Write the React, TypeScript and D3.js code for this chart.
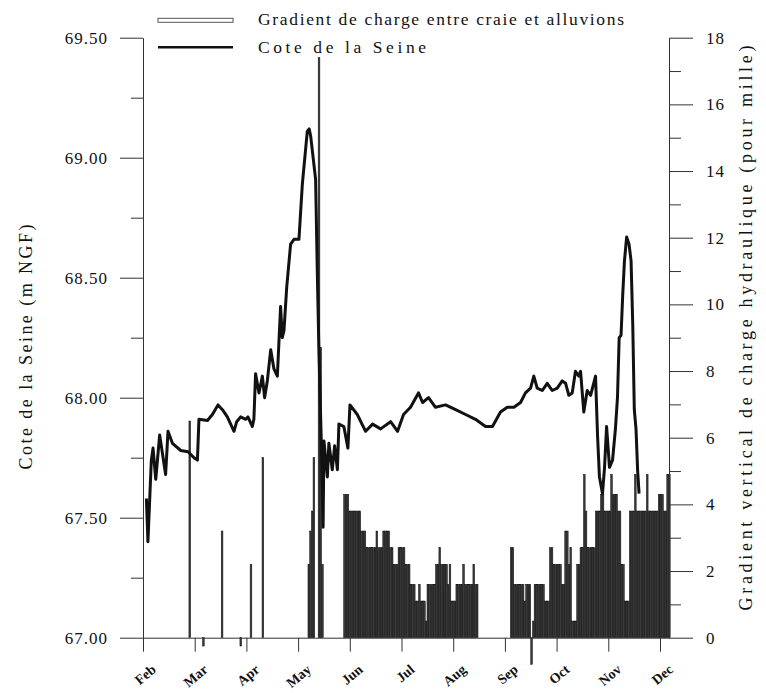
import { useEffect, useRef } from 'react';
import * as d3 from 'd3';

const months = ['Feb', 'Mar', 'Apr', 'May', 'Jun', 'Jul', 'Aug', 'Sep', 'Oct', 'Nov', 'Dec'];
const daysPerMonth = 30.4;
const lastDay = 309.3;

const leftTicks = [67, 67.5, 68, 68.5, 69, 69.5];
const leftMinorTicks = [67.25, 67.75, 68.25, 68.75, 69.25];
const rightTicks = [0, 2, 4, 6, 8, 10, 12, 14, 16, 18];
const rightMinorTicks = [1, 3, 5, 7, 9, 11, 13, 15, 17];

// Cote de la Seine (m NGF), day counted from 1 Feb
const seineDays = [
  2.0, 2.9, 4.9, 5.9, 7.5, 9.8, 13.3, 14.7, 17.3, 22.2, 26.5, 30.0, 32.0, 32.9, 37.9, 40.8,
  44.1, 46.7, 49.6, 53.5, 55.1, 57.4, 60.4, 61.7, 64.3, 65.2, 66.2, 68.2, 70.2, 71.5, 73.1,
  75.1, 77.0, 79.0, 80.9, 81.9, 82.9, 84.5, 86.8, 88.8, 91.7, 93.7, 96.6, 97.7, 98.6, 101.5,
  102.5, 103.4, 104.9, 105.9, 106.4, 108.4, 109.3, 111.3, 112.7, 114.3, 115.2, 118.1, 120.5,
  121.7, 126.0, 130.9, 135.0, 139.7, 145.6, 149.7, 153.2, 157.3, 162.0, 164.4, 167.9, 172.0,
  177.9, 183.8, 189.7, 195.5, 201.4, 205.5, 210.2, 214.2, 218.1, 222.0, 224.9, 227.9, 229.8,
  231.8, 234.8, 237.7, 240.6, 243.6, 246.5, 248.5, 250.4, 252.4, 254.3, 256.3, 257.3, 259.2,
  261.2, 263.2, 266.1, 267.3, 268.4, 270.2, 271.4, 272.6, 273.4, 274.3, 276.1, 277.8, 279.0,
  280.0, 281.1, 282.1, 283.1, 284.4, 285.8, 287.0, 288.0, 288.9, 289.9, 290.9, 291.7
];
const seineLevels = [
  67.58, 67.40, 67.74, 67.79, 67.66, 67.845, 67.68, 67.86, 67.81, 67.78, 67.775, 67.75, 67.74,
  67.91, 67.905, 67.93, 67.97, 67.95, 67.92, 67.86, 67.90, 67.92, 67.91, 67.92, 67.88, 67.91,
  68.10, 68.02, 68.09, 68.00, 68.07, 68.20, 68.12, 68.09, 68.38, 68.25, 68.28, 68.46, 68.64,
  68.66, 68.66, 68.89, 69.11, 69.12, 69.09, 68.91, 68.52, 68.21, 67.80, 67.46, 67.82, 67.67,
  67.81, 67.70, 67.80, 67.70, 67.89, 67.88, 67.79, 67.97, 67.93, 67.86, 67.89, 67.87, 67.90,
  67.86, 67.93, 67.96, 68.02, 67.98, 68.00, 67.96, 67.97, 67.95, 67.93, 67.91, 67.88, 67.88,
  67.94, 67.96, 67.96, 67.98, 68.02, 68.04, 68.09, 68.04, 68.03, 68.06, 68.03, 68.04, 68.07,
  68.06, 68.01, 68.02, 68.11, 68.09, 68.11, 67.94, 68.03, 68.01, 68.09, 67.84, 67.67, 67.60,
  67.71, 67.88, 67.80, 67.71, 67.74, 67.87, 68.00, 68.25, 68.26, 68.43, 68.57, 68.67, 68.64,
  68.57, 68.30, 67.95, 67.87, 67.69, 67.60
];

// Gradient de charge (pour mille), one bar per day
const springDays = [27, 35, 46, 57, 63, 70, 97, 98, 99, 100, 103, 104, 105];
const springGradient = [6.5, -0.25, 3.2, -0.25, 2.2, 5.4, 2.2, 3.2, 3.8, 5.4, 17.4, 8.7, 2.2];

const summerStart = 118;
const summerGradient = [
  4.3, 4.3, 4.3, 3.8, 3.8, 3.8, 3.8, 3.8, 3.8, 3.8, 3.2, 3.2, 3.2, 2.7, 2.7, 2.7, 2.7, 2.7,
  2.7, 3.2, 2.7, 2.7, 2.7, 3.2, 3.2, 3.2, 3.2, 2.7, 2.7, 2.2, 2.2, 2.2, 2.7, 2.7, 2.7, 2.7,
  2.2, 2.2, 2.2, 1.6, 1.6, 1.6, 1.1, 1.1, 1.6, 1.1, 1.1, 1.1, 0.5, 1.6, 1.6, 1.6, 1.6, 1.6,
  2.2, 2.2, 2.7, 2.2, 2.2, 2.2, 2.2, 1.6, 2.2, 1.1, 1.1, 1.1, 1.6, 1.6, 1.6, 1.6, 2.2, 1.6,
  1.6, 1.6, 1.6, 1.6, 2.2, 1.6, 1.6
];

const autumnStart = 216;
const autumnGradient = [
  2.7, 2.7, 1.6, 1.6, 1.6, 1.6, 1.6, 1.6, 1.1, 1.6, 1.6, 1.6, -0.8, 0.5, 1.6, 1.6, 1.6, 1.6,
  1.6, 1.6, 1.1, 1.1, 1.1, 2.7, 2.7, 2.2, 2.2, 2.2, 2.2, 2.2, 1.6, 1.6, 3.2, 3.2, 2.2, 2.7,
  0.5, 0.5, 0.5, 2.2, 2.2, 2.7, 2.7, 4.9, 3.8, 2.7, 2.7, 2.7, 2.7, 2.7, 3.8, 3.8, 3.8, 4.3,
  4.3, 3.8, 3.8, 3.8, 3.8, 4.9, 4.3, 4.3, 4.3, 3.8, 3.8, 2.2, 2.2, 1.1, 1.1, 1.1, 3.8, 3.8,
  3.8, 4.9, 3.8, 3.8, 3.8, 3.8, 3.8, 3.8, 4.9, 3.8, 3.8, 3.8, 3.8, 3.8, 3.8, 4.3, 4.3, 4.3,
  3.8, 3.8, 4.9, 4.9
];

const FONT = '"Liberation Serif", "Times New Roman", serif';

export default function App() {
  const svgRef = useRef<SVGSVGElement>(null);

  useEffect(() => {
    document.body.style.margin = '0';
    if (!svgRef.current) return;
    const svg = d3.select(svgRef.current);
    svg.selectAll('*').remove();

    const width = 766;
    const height = 693;
    const top = 37.7;
    const bottom = 637.7;
    const left = 143;
    const right = 669;

    svg.attr('width', width).attr('height', height).style('background', '#fff');

    const x = d3.scaleLinear().domain([0, lastDay]).range([left, right]);
    const yLeft = d3.scaleLinear().domain([67, 69.5]).range([bottom, top]);
    const yRight = d3.scaleLinear().domain([0, 18]).range([bottom, top]);

    const bars = [
      ...springDays.map((d, i) => ({ day: d, value: springGradient[i] })),
      ...summerGradient.map((v, i) => ({ day: summerStart + i, value: v })),
      ...autumnGradient.map((v, i) => ({ day: autumnStart + i, value: v }))
    ];

    // bars
    svg
      .append('g')
      .selectAll('rect')
      .data(bars)
      .enter()
      .append('rect')
      .attr('x', (d) => x(d.day))
      .attr('width', (d) => x(d.day + 1) - x(d.day))
      .attr('y', (d) => yRight(Math.max(0, d.value)))
      .attr('height', (d) => Math.abs(yRight(d.value) - yRight(0)))
      .attr('fill', '#3a3a3a')
      .attr('stroke', '#111')
      .attr('stroke-width', 0.5);

    // Seine level line
    const seine = seineDays.map((d, i) => [d, seineLevels[i]] as [number, number]);
    const line = d3
      .line<[number, number]>()
      .x((d) => x(d[0]))
      .y((d) => yLeft(d[1]));
    svg
      .append('path')
      .datum(seine)
      .attr('d', line)
      .attr('fill', 'none')
      .attr('stroke', '#111')
      .attr('stroke-width', 3)
      .attr('stroke-linejoin', 'round');

    const styleAxis = (g: d3.Selection<SVGGElement, unknown, null, undefined>) => {
      g.selectAll('path, line').attr('stroke', '#333').attr('stroke-width', 1);
      g.selectAll('text')
        .attr('fill', '#111')
        .style('font-family', FONT)
        .style('font-size', '17px')
        .style('letter-spacing', '1px');
    };

    // left axis
    const gl = svg.append('g').attr('transform', `translate(${left},0)`);
    gl.call(
      d3.axisLeft(yLeft).tickValues(leftTicks).tickSize(23).tickSizeOuter(0).tickPadding(12)
        .tickFormat(d3.format('.2f'))
    );
    styleAxis(gl);
    const glm = svg.append('g').attr('transform', `translate(${left},0)`);
    glm.call(d3.axisLeft(yLeft).tickValues(leftMinorTicks).tickSize(12).tickFormat(() => ''));
    glm.select('.domain').remove();
    styleAxis(glm);

    // right axis
    const gr = svg.append('g').attr('transform', `translate(${right},0)`);
    gr.call(
      d3.axisRight(yRight).tickValues(rightTicks).tickSize(24).tickSizeOuter(0).tickPadding(13)
        .tickFormat(d3.format('d'))
    );
    styleAxis(gr);
    const grm = svg.append('g').attr('transform', `translate(${right},0)`);
    grm.call(d3.axisRight(yRight).tickValues(rightMinorTicks).tickSize(12).tickFormat(() => ''));
    grm.select('.domain').remove();
    styleAxis(grm);

    // bottom axis
    const monthTicks = months.map((_, i) => i * daysPerMonth);
    const gb = svg.append('g').attr('transform', `translate(0,${bottom})`);
    gb.call(d3.axisBottom(x).tickValues(monthTicks).tickSize(14).tickSizeOuter(0).tickFormat(() => ''));
    styleAxis(gb);

    svg
      .append('g')
      .selectAll('text')
      .data(months)
      .enter()
      .append('text')
      .attr('transform', (_, i) => `translate(${x(monthTicks[i]) + 14},671) rotate(-40)`)
      .attr('text-anchor', 'end')
      .style('font-family', FONT)
      .style('font-size', '14px')
      .style('font-weight', 'bold')
      .attr('fill', '#111')
      .text((d) => d);

    // axis titles
    svg
      .append('text')
      .attr('transform', `translate(32,347) rotate(-90)`)
      .attr('text-anchor', 'middle')
      .attr('textLength', 245)
      .attr('lengthAdjust', 'spacing')
      .style('font-family', FONT)
      .style('font-size', '18px')
      .attr('fill', '#111')
      .text('Cote de la Seine (m NGF)');

    svg
      .append('text')
      .attr('transform', `translate(752,328) rotate(-90)`)
      .attr('text-anchor', 'middle')
      .attr('textLength', 565)
      .attr('lengthAdjust', 'spacing')
      .style('font-family', FONT)
      .style('font-size', '18px')
      .attr('fill', '#111')
      .text('Gradient vertical de charge hydraulique (pour mille)');

    // legend
    const legend = svg.append('g');
    legend
      .append('rect')
      .attr('x', 158)
      .attr('y', 18.3)
      .attr('width', 75)
      .attr('height', 4)
      .attr('fill', '#fff')
      .attr('stroke', '#555')
      .attr('stroke-width', 1);
    legend
      .append('line')
      .attr('x1', 158)
      .attr('x2', 233)
      .attr('y1', 47.3)
      .attr('y2', 47.3)
      .attr('stroke', '#111')
      .attr('stroke-width', 2.5);
    legend
      .append('text')
      .attr('x', 258)
      .attr('y', 25)
      .attr('textLength', 366)
      .attr('lengthAdjust', 'spacing')
      .style('font-family', FONT)
      .style('font-size', '17.5px')
      .attr('fill', '#111')
      .text('Gradient de charge entre craie et alluvions');
    legend
      .append('text')
      .attr('x', 258)
      .attr('y', 53.3)
      .attr('textLength', 168)
      .attr('lengthAdjust', 'spacing')
      .style('font-family', FONT)
      .style('font-size', '17.5px')
      .attr('fill', '#111')
      .text('Cote de la Seine');
  }, []);

  return <svg ref={svgRef}></svg>;
}
